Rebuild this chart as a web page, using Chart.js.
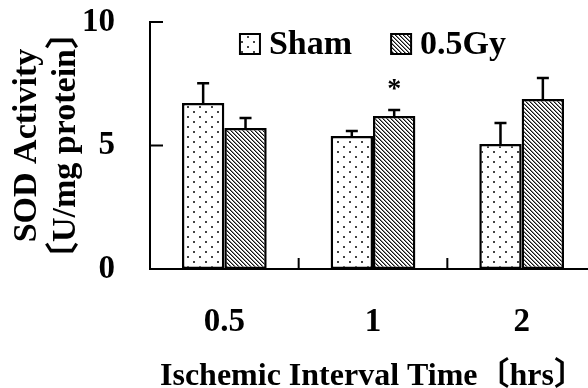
<!DOCTYPE html>
<html>
<head>
<meta charset="utf-8">
<script src="https://cdn.jsdelivr.net/npm/chart.js@4.4.0/dist/chart.umd.min.js"></script>
<style>
  html, body { margin: 0; padding: 0; background: #fff; overflow: hidden; }
  #wrap { width: 588px; height: 388px; overflow: hidden; }
</style>
</head>
<body>
<div id="wrap"><canvas id="sodChart" width="600" height="388"></canvas></div>
<script>
// data
const timeLabels = ['0.5', '1', '2'];
const seriesNames = ['Sham', '0.5Gy'];
const shamValues = [6.72, 5.38, 5.06];
const shamErrors = [0.80, 0.21, 0.85];
const gyValues = [5.71, 6.19, 6.88];
const gyErrors = [0.40, 0.25, 0.85];
const gyMarks = ['', '*', ''];
const yTicks = [0, 5, 10];

const SERIF = '"Liberation Serif", "Times New Roman", "Noto Sans CJK SC", serif';

// fill patterns
function dotPattern() {
    const c = document.createElement('canvas');
    c.width = 12; c.height = 10;
    const g = c.getContext('2d');
    g.fillStyle = '#fff';
    g.fillRect(0, 0, 12, 10);
    g.fillStyle = '#444';
    g.fillRect(1, 1, 2, 2);
    g.fillRect(7, 6, 2, 2);
    return g.createPattern(c, 'repeat');
}
function hatchPattern() {
    const c = document.createElement('canvas');
    c.width = 4; c.height = 4;
    const g = c.getContext('2d');
    g.fillStyle = '#fff';
    g.fillRect(0, 0, 4, 4);
    for (let i = 0; i < 4; i++) {
        g.fillStyle = '#111';
        g.fillRect(i, i, 1, 1);
        g.fillStyle = '#888';
        g.fillRect((i + 1) % 4, i, 1, 1);
    }
    return g.createPattern(c, 'repeat');
}
const fills = [dotPattern(), hatchPattern()];

// error bars, inward ticks, legend and significance marks
const extras = {
    id: 'extras',
    afterDatasetsDraw(chart) {
        const ctx = chart.ctx;
        const x = chart.scales.x, y = chart.scales.y;
        const ca = chart.chartArea;
        const errs = [shamErrors, gyErrors];
        ctx.save();
        ctx.strokeStyle = '#000';
        ctx.fillStyle = '#000';
        ctx.lineWidth = 2.5;

        // error bars (upper half only)
        chart.data.datasets.forEach((ds, di) => {
            const meta = chart.getDatasetMeta(di);
            meta.data.forEach((bar, i) => {
                const top = y.getPixelForValue(ds.data[i] + errs[di][i]);
                ctx.beginPath();
                ctx.moveTo(bar.x, bar.y);
                ctx.lineTo(bar.x, top);
                ctx.moveTo(bar.x - 6, top);
                ctx.lineTo(bar.x + 6, top);
                ctx.stroke();
                if (di === 1 && gyMarks[i]) {
                    ctx.font = 'bold 28px ' + SERIF;
                    ctx.textAlign = 'center';
                    ctx.textBaseline = 'alphabetic';
                    ctx.fillText(gyMarks[i], bar.x, top - 13);
                }
            });
        });

        // y ticks pointing inward
        ctx.lineWidth = 2;
        yTicks.forEach(v => {
            if (v === 0) return;
            const py = y.getPixelForValue(v);
            ctx.beginPath();
            ctx.moveTo(ca.left, py);
            ctx.lineTo(ca.left + 13, py);
            ctx.stroke();
        });
        // x ticks at category boundaries, pointing up
        for (let i = 0; i < timeLabels.length - 1; i++) {
            const px = (x.getPixelForValue(i) + x.getPixelForValue(i + 1)) / 2;
            ctx.beginPath();
            ctx.moveTo(px, ca.bottom);
            ctx.lineTo(px, ca.bottom - 11);
            ctx.stroke();
        }

        // legend inside the plot
        ctx.font = 'bold 34px ' + SERIF;
        ctx.textAlign = 'left';
        ctx.textBaseline = 'alphabetic';
        const box = 20, gapText = 9, gapItem = 39;
        const widths = seriesNames.map(n => box + gapText + ctx.measureText(n).width);
        const total = widths.reduce((a, b) => a + b, 0) + gapItem * (widths.length - 1);
        let lx = (ca.left + ca.right) / 2 - total / 2;
        const ly = ca.top + 12;
        seriesNames.forEach((n, i) => {
            ctx.fillStyle = fills[i];
            ctx.fillRect(lx, ly, box, box);
            ctx.strokeStyle = '#000';
            ctx.lineWidth = 2;
            ctx.strokeRect(lx, ly, box, box);
            ctx.fillStyle = '#000';
            ctx.fillText(n, lx + box + gapText, ly + box);
            lx += widths[i] + gapItem;
        });
        ctx.restore();
    }
};

const chartCtx = document.getElementById('sodChart').getContext('2d');
window.sodChart = new Chart(chartCtx, {
    type: 'bar',
    data: {
        labels: timeLabels,
        datasets: [
            {
                label: seriesNames[0],
                data: shamValues,
                backgroundColor: fills[0],
                borderColor: '#000',
                borderWidth: 2.5,
                borderSkipped: false
            },
            {
                label: seriesNames[1],
                data: gyValues,
                backgroundColor: fills[1],
                borderColor: '#000',
                borderWidth: 2.5,
                borderSkipped: false
            }
        ]
    },
    options: {
        responsive: false,
        animation: false,
        categoryPercentage: 0.57,
        barPercentage: 1,
        layout: { padding: { left: 0, right: 4, top: 22, bottom: 0 } },
        plugins: {
            legend: { display: false },
            tooltip: { enabled: false }
        },
        scales: {
            x: {
                afterFit(scale) { scale.height = 119; },
                grid: { display: false, drawTicks: false },
                border: { display: true, color: '#000', width: 2 },
                ticks: {
                    color: '#000',
                    padding: 34,
                    font: { family: SERIF, size: 33, weight: 'bold' }
                },
                title: {
                    display: true,
                    text: 'Ischemic Interval Time〔hrs〕',
                    color: '#000',
                    padding: { top: 0, bottom: 0 },
                    font: { family: SERIF, size: 32, weight: 'bold', lineHeight: 0.7 }
                }
            },
            y: {
                min: 0,
                max: 10,
                afterBuildTicks(scale) {
                    scale.ticks = yTicks.map(v => ({ value: v }));
                },
                afterFit(scale) {
                    scale.width = 150;
                    scale.paddingTop = 0;
                    scale.paddingBottom = 0;
                },
                grid: { display: false, drawTicks: false },
                border: { display: true, color: '#000', width: 2 },
                ticks: {
                    color: '#000',
                    padding: 35,
                    font: { family: SERIF, size: 33, weight: 'bold' }
                },
                title: {
                    display: true,
                    text: ['SOD Activity', '〔U/mg protein〕'],
                    color: '#000',
                    padding: { top: 8, bottom: 0 },
                    font: { family: SERIF, size: 34, weight: 'bold', lineHeight: 1.15 }
                }
            }
        }
    },
    plugins: [extras]
});
</script>
</body>
</html>
